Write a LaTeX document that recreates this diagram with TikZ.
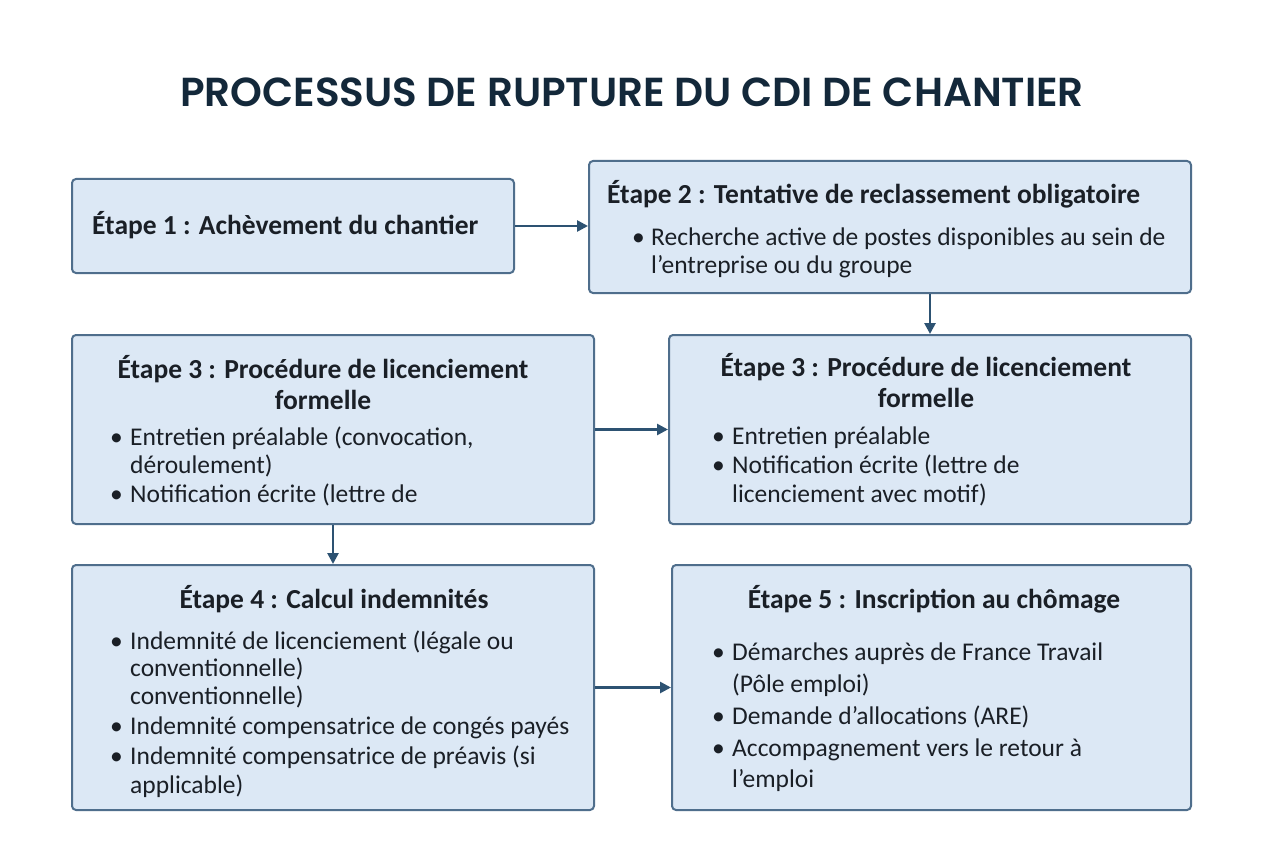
\documentclass[tikz,border=0pt]{standalone}
\usepackage{fontspec}
\setmainfont{Carlito}
\newfontfamily\titlefont{Poppins SemiBold}
\usetikzlibrary{arrows.meta}
\definecolor{boxfill}{HTML}{DCE8F5}
\definecolor{boxline}{HTML}{4F6E8C}
\definecolor{arrcol}{HTML}{2D5272}
\definecolor{ink}{HTML}{1A1F26}
\definecolor{titlecol}{HTML}{13283A}
\newcounter{lnc}
\newcommand\tl[3]{\stepcounter{lnc}\node[txt,anchor=base west] (l\thelnc) at (#1,#2) {#3};}
\newcommand\hd[3]{\stepcounter{lnc}\node[hdg,anchor=base] (h\thelnc) at (#1,#2) {#3};}
\newcommand\hl[3]{\stepcounter{lnc}\node[hdg,anchor=base west] (h\thelnc) at (#1,#2) {#3};}
\newcommand\bl[2]{\stepcounter{lnc}\node[txt,anchor=base west] (b\thelnc) at (#1,#2) {•};}
\begin{document}
\begin{tikzpicture}[x=1pt,y=-1pt,
  box/.style={draw=boxline,line width=2pt,fill=boxfill,rounded corners=4pt,inner sep=0},
  txt/.style={inner sep=0,font=\fontsize{25.5}{30}\selectfont,text=ink},
  hdg/.style={inner sep=0,font=\fontsize{27.5}{32}\selectfont\bfseries,text=ink},
  arr/.style={draw=arrcol,line width=2.6pt,-{Triangle[length=11pt,width=11pt]}}]
\useasboundingbox (0,0) rectangle (1264,848);
\fill[white] (0,0) rectangle (1264,848);
\node[font=\titlefont\fontsize{40.5}{45}\selectfont,text=titlecol,anchor=base] (title) at (632,107) {PROCESSUS DE RUPTURE DU CDI DE CHANTIER};
\node[box,minimum width=442pt,minimum height=94pt] (b1) at (293,226) {};
\node[box,minimum width=602pt,minimum height=132pt] (b2) at (890,227) {};
\node[box,minimum width=522pt,minimum height=189pt] (b3l) at (333,429.5) {};
\node[box,minimum width=522pt,minimum height=189pt] (b3r) at (930,429.5) {};
\node[box,minimum width=522pt,minimum height=245pt] (b4) at (333,687.5) {};
\node[box,minimum width=519pt,minimum height=245pt] (b5) at (931.5,687.5) {};
% box 1
\hl{92}{234}{Étape 1 : Achèvement du chantier}
% box 2
\hl{607}{203}{Étape 2 : Tentative de reclassement obligatoire}
\bl{632}{245}\tl{651}{245}{Recherche active de postes disponibles au sein de}
\tl{651}{273}{l’entreprise ou du groupe}
% box 3 left
\hd{323}{378}{Étape 3 : Procédure de licenciement}
\hd{323}{409}{formelle}
\bl{110}{445}\tl{130}{445}{Entretien préalable (convocation,}
\tl{130}{473}{déroulement)}
\bl{110}{502}\tl{130}{502}{Notification écrite (lettre de}
% box 3 right
\hd{926}{376}{Étape 3 : Procédure de licenciement}
\hd{926}{407}{formelle}
\bl{712}{444}\tl{732}{444}{Entretien préalable}
\bl{712}{473}\tl{732}{473}{Notification écrite (lettre de}
\tl{732}{502}{licenciement avec motif)}
% box 4
\hd{334}{608}{Étape 4 : Calcul indemnités}
\bl{110}{649}\tl{130}{649}{Indemnité de licenciement (légale ou}
\tl{130}{676}{conventionnelle)}
\tl{130}{704}{conventionnelle)}
\bl{110}{734}\tl{130}{734}{Indemnité compensatrice de congés payés}
\bl{110}{764}\tl{130}{764}{Indemnité compensatrice de préavis (si}
\tl{130}{793}{applicable)}
% box 5
\hd{934}{608}{Étape 5 : Inscription au chômage}
\bl{712}{660}\tl{732}{660}{Démarches auprès de France Travail}
\tl{732}{692}{(Pôle emploi)}
\bl{712}{724}\tl{732}{724}{Demande d’allocations (ARE)}
\bl{712}{756}\tl{732}{756}{Accompagnement vers le retour à}
\tl{732}{787}{l’emploi}
% arrows
\draw[arr] (b1.east) -- (b1.east -| b2.west);
\draw[arr] (b2.south -| b3r.north) -- (b3r.north);
\draw[arr] (b3l.east) -- (b3r.west);
\draw[arr] (b3l.south) -- (b4.north);
\draw[arr] (b4.east) -- (b5.west);
\end{tikzpicture}
\end{document}
